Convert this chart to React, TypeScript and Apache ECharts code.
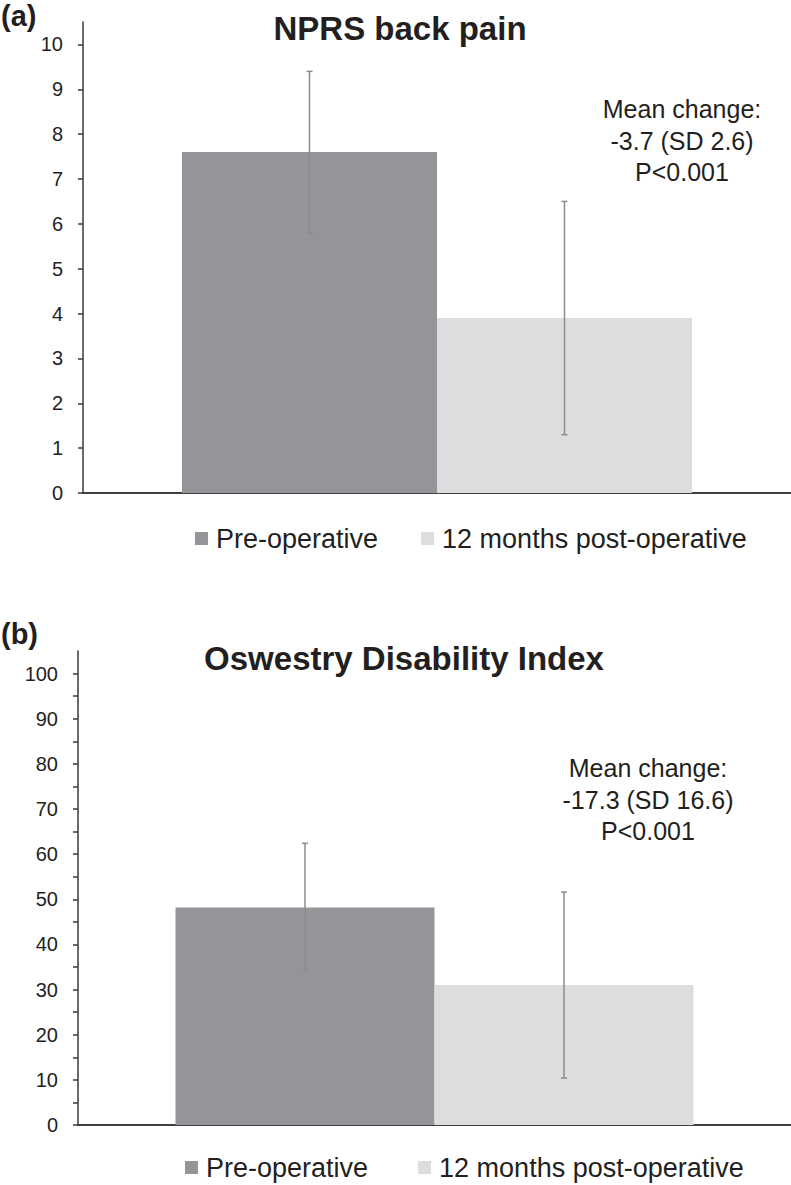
import React, { useEffect, useRef } from "react";
import * as echarts from "echarts";

const groups = ["Pre-operative", "12 months post-operative"];
const nprsMeans = [7.6, 3.9];
const nprsSD = [1.8, 2.6];
const odiMeans = [48.2, 31.0];
const odiSD = [14.2, 20.6];
const nprsTicks = [0, 1, 2, 3, 4, 5, 6, 7, 8, 9, 10];
const odiLabels = [0, 10, 20, 30, 40, 50, 60, 70, 80, 90, 100];
const odiMinorTicks = [0, 5, 10, 15, 20, 25, 30, 35, 40, 45, 50, 55, 60, 65, 70, 75, 80, 85, 90, 95, 100];
const nprsNote = ["Mean change:", "-3.7 (SD 2.6)", "P<0.001"];
const odiNote = ["Mean change:", "-17.3 (SD 16.6)", "P<0.001"];
const titles = ["NPRS back pain", "Oswestry Disability Index"];
const panelLabels = ["(a)", "(b)"];

const FONT = "'Liberation Sans', Arial, sans-serif";
const COLORS = ["#939598", "#dcddde"];
const BAR_W = [255, 259];

export default function App() {
  const ref = useRef<HTMLDivElement>(null);
  useEffect(() => {
    if (!ref.current) return;
    const chart = echarts.init(ref.current, undefined, { renderer: "svg" });

    const yAxisBase = (max: number, labels: number[], ticks: number[]) => ({
      type: "value",
      min: 0,
      max,
      splitLine: { show: false },
      axisLine: { show: true, lineStyle: { color: "#3a3a3a", width: 1.5 } },
      axisTick: { show: true, length: 5, customValues: ticks, lineStyle: { color: "#3a3a3a", width: 1.5 } },
      axisLabel: { customValues: labels, fontSize: 20, color: "#231f20", fontFamily: FONT, margin: 20 },
    });
    const xAxisBase = (gi: number) => ({
      type: "category",
      gridIndex: gi,
      data: ["g"],
      axisLine: { show: true, lineStyle: { color: "#404040", width: 2 } },
      axisTick: { show: false },
      axisLabel: { show: false },
    });

    const barSeries = (gi: number, means: number[]) =>
      groups.map((g, i) => ({
        type: "bar",
        name: g,
        xAxisIndex: gi,
        yAxisIndex: gi,
        data: [means[i]],
        barWidth: BAR_W[gi],
        barGap: "0%",
        itemStyle: { color: COLORS[i] },
        silent: true,
      }));

    const errSeries = (gi: number, means: number[], sds: number[]) => ({
      type: "custom",
      xAxisIndex: gi,
      yAxisIndex: gi,
      z: 5,
      silent: true,
      data: means.map((m, i) => [0, m - sds[i], m + sds[i], i === 0 ? -1 : 1]),
      renderItem: (params: any, api: any) => {
        const lo = api.coord([api.value(0), api.value(1)]);
        const hi = api.coord([api.value(0), api.value(2)]);
        const x = lo[0] + api.value(3) * (BAR_W[gi] / 2);
        const cap = 3;
        const style = { stroke: "#8c8c8c", lineWidth: 1.5 };
        return {
          type: "group",
          children: [
            { type: "line", shape: { x1: x, y1: hi[1], x2: x, y2: lo[1] }, style },
            { type: "line", shape: { x1: x - cap, y1: hi[1], x2: x + cap, y2: hi[1] }, style },
            { type: "line", shape: { x1: x - cap, y1: lo[1], x2: x + cap, y2: lo[1] }, style },
          ],
        };
      },
    });

    const noteTexts = (lines: string[], cx: number, y0: number, dy: number) =>
      lines.map((t, i) => ({
        type: "text",
        x: cx,
        y: y0 + i * dy,
        style: { text: t, fontSize: 25, fontFamily: FONT, fill: "#231f20", textAlign: "center", textVerticalAlign: "middle" },
      }));

    const legendBase = (left: number, top: number, gap: number) => ({
      data: groups,
      left,
      top,
      icon: "rect",
      itemWidth: 13,
      itemHeight: 13,
      itemGap: gap,
      selectedMode: false,
      textStyle: { fontSize: 27, color: "#231f20", fontFamily: FONT, padding: [0, 0, 0, 3] },
    });

    chart.setOption({
      animation: false,
      textStyle: { fontFamily: FONT },
      grid: [
        { left: 83, right: 0, top: 22, height: 471 },
        { left: 78, right: 0, top: 651, height: 474 },
      ],
      xAxis: [xAxisBase(0), xAxisBase(1)],
      yAxis: [
        { ...yAxisBase(10.5, nprsTicks, nprsTicks), gridIndex: 0 },
        { ...yAxisBase(105, odiLabels, odiMinorTicks), gridIndex: 1 },
      ],
      legend: [legendBase(190, 520, 43), legendBase(180, 1149, 50)],
      series: [
        ...barSeries(0, nprsMeans),
        errSeries(0, nprsMeans, nprsSD),
        ...barSeries(1, odiMeans),
        errSeries(1, odiMeans, odiSD),
      ],
      graphic: [
        { type: "text", x: 1, y: 16, style: { text: panelLabels[0], fontSize: 29, fontWeight: "bold", fontFamily: FONT, fill: "#231f20", textVerticalAlign: "middle" } },
        { type: "text", x: 1, y: 634, style: { text: panelLabels[1], fontSize: 29, fontWeight: "bold", fontFamily: FONT, fill: "#231f20", textVerticalAlign: "middle" } },
        { type: "text", x: 400, y: 28, style: { text: titles[0], fontSize: 33, fontWeight: "bold", fontFamily: FONT, fill: "#231f20", textAlign: "center", textVerticalAlign: "middle" } },
        { type: "text", x: 404, y: 658, style: { text: titles[1], fontSize: 33, fontWeight: "bold", fontFamily: FONT, fill: "#231f20", textAlign: "center", textVerticalAlign: "middle" } },
        ...noteTexts(nprsNote, 682, 109, 31.5),
        ...noteTexts(odiNote, 648, 768, 31.5),
      ],
    });
    return () => chart.dispose();
  }, []);
  return <div ref={ref} style={{ position: "absolute", left: 0, top: 0, width: 791, height: 1185 }} />;
}
